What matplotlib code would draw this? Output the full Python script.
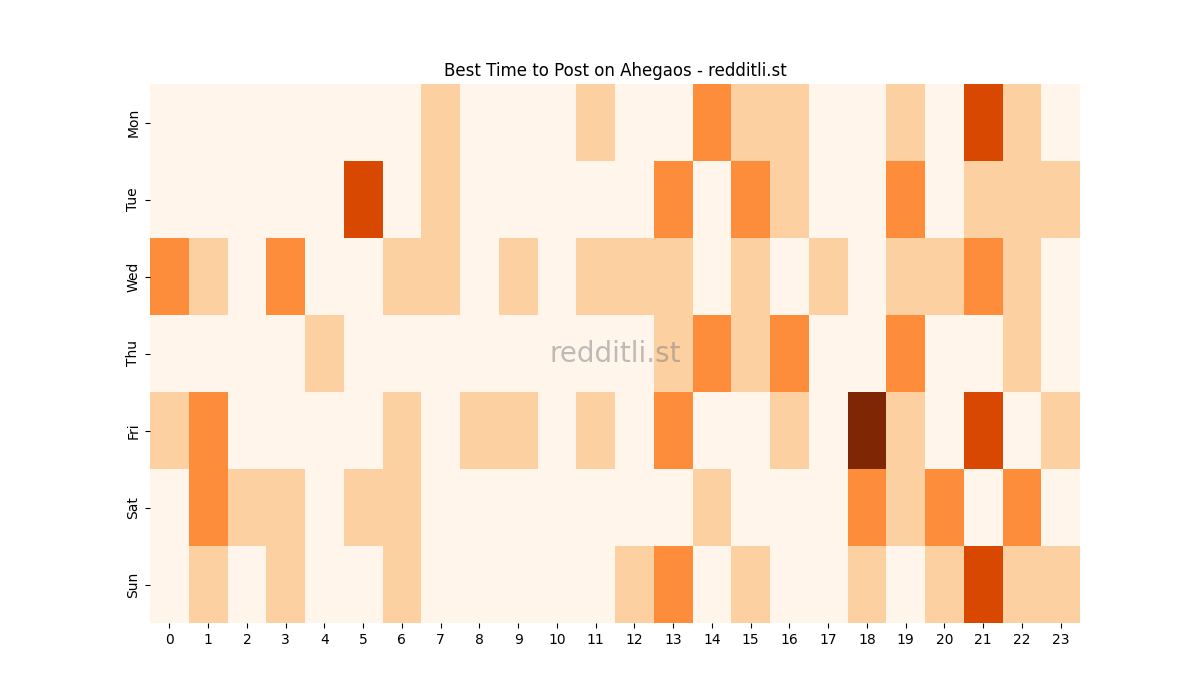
import matplotlib
matplotlib.use("Agg")
import matplotlib.pyplot as plt
import seaborn as sns
import numpy as np

days = ["Mon", "Tue", "Wed", "Thu", "Fri", "Sat", "Sun"]
hours = list(range(24))

mon = [0,0,0,0,0,0,0,1,0,0,0,1,0,0,2,1,1,0,0,1,0,3,1,0]
tue = [0,0,0,0,0,3,0,1,0,0,0,0,0,2,0,2,1,0,0,2,0,1,1,1]
wed = [2,1,0,2,0,0,1,1,0,1,0,1,1,1,0,1,0,1,0,1,1,2,1,0]
thu = [0,0,0,0,1,0,0,0,0,0,0,0,0,1,2,1,2,0,0,2,0,0,1,0]
fri = [1,2,0,0,0,0,1,0,1,1,0,1,0,2,0,0,1,0,4,1,0,3,0,1]
sat = [0,2,1,1,0,1,1,0,0,0,0,0,0,0,1,0,0,0,2,1,2,0,2,0]
sun = [0,1,0,1,0,0,1,0,0,0,0,0,1,2,0,1,0,0,1,0,1,3,1,1]

data = np.array([mon, tue, wed, thu, fri, sat, sun])

fig, ax = plt.subplots(figsize=(12, 7), dpi=100)
sns.heatmap(data, cmap="Oranges", vmin=0, vmax=4, cbar=False,
            xticklabels=hours, yticklabels=days, ax=ax)
ax.set_title("Best Time to Post on Ahegaos - redditli.st")
ax.text(0.5, 0.5, "redditli.st", transform=ax.transAxes, fontsize=20,
        color="grey", alpha=0.5, ha="center", va="center")
plt.savefig("out.png")
